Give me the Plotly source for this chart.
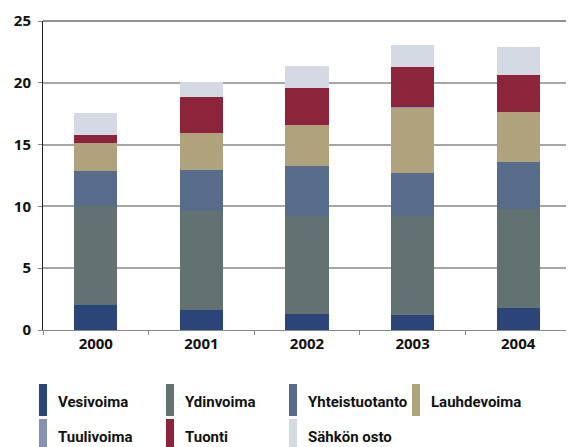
import plotly.graph_objects as go

years = ["2000", "2001", "2002", "2003", "2004"]

vesivoima = [2.02, 1.62, 1.29, 1.21, 1.78]
ydinvoima = [8.01, 8.01, 7.96, 8.04, 8.01]
yhteistuotanto = [2.83, 3.31, 4.02, 3.45, 3.80]
lauhdevoima = [2.27, 3.00, 3.32, 5.34, 4.05]
tuulivoima = [0.01, 0.01, 0.01, 0.02, 0.03]
tuonti = [0.65, 2.91, 2.99, 3.24, 2.99]
sahkon_osto = [1.78, 1.21, 1.78, 1.78, 2.27]

series = [
    ("Vesivoima", vesivoima, "#2b4579"),
    ("Ydinvoima", ydinvoima, "#617270"),
    ("Yhteistuotanto", yhteistuotanto, "#566c8a"),
    ("Lauhdevoima", lauhdevoima, "#b1a27e"),
    ("Tuulivoima", tuulivoima, "#8790b5"),
    ("Tuonti", tuonti, "#8c243b"),
    ("Sähkön osto", sahkon_osto, "#d4dae3"),
]

FONT = "Open Sans"
LEG_FONT = "Roboto"

fig = go.Figure()
for name, vals, col in series:
    fig.add_trace(go.Bar(x=years, y=vals, name=name, marker=dict(color=col, line=dict(width=0)),
                         showlegend=False))

# page body has an 8px margin, so the figure is a bit smaller than the window
OFF = 8
W, H = 574 - OFF, 447 - OFF
m_l, m_r, m_t, m_b = 35, 3, 13, 117
pw, ph = W - m_l - m_r, H - m_t - m_b

# legend drawn by hand: tall swatches, 4 columns x 2 rows (page pixels)
col_x = [39, 166, 289, 412]
row_y = [384, 419]
shapes = []
annotations = []
for i, (name, vals, col) in enumerate(series):
    cx = col_x[i % 4] - OFF
    ry = row_y[i // 4] - OFF
    shapes.append(dict(type="rect", xref="paper", yref="paper",
                       x0=(cx - m_l) / pw, x1=(cx + 8 - m_l) / pw,
                       y0=(H - m_b - (ry + 32)) / ph, y1=(H - m_b - ry) / ph,
                       fillcolor=col, line=dict(width=0)))
    annotations.append(dict(xref="paper", yref="paper", x=(cx + 17 - m_l) / pw,
                            y=(H - m_b - (ry + 18)) / ph, text="<b>%s</b>" % name,
                            showarrow=False, xanchor="left", yanchor="middle",
                            font=dict(family=LEG_FONT, size=15, color="#111")))

# dark top border
shapes.append(dict(type="line", xref="paper", yref="paper", x0=0, x1=1, y0=1, y1=1,
                   line=dict(color="#222", width=1)))

fig.update_layout(
    barmode="stack",
    bargap=0.59,
    width=W, height=H,
    margin=dict(l=m_l, r=m_r, t=m_t, b=m_b),
    plot_bgcolor="white", paper_bgcolor="white",
    font=dict(family=FONT, size=15, color="#111"),
    shapes=shapes,
    annotations=annotations,
)
fig.update_xaxes(showline=True, linecolor="#888", linewidth=1, ticks="outside",
                 tickson="boundaries", ticklen=4, tickcolor="#888",
                 tickfont=dict(family=FONT, size=15, weight="bold"), showgrid=False)
fig.update_yaxes(range=[0, 25], dtick=5, showline=True, linecolor="#222", linewidth=1,
                 mirror=True, showgrid=True, gridcolor="#a6a6a6", gridwidth=1.5,
                 ticks="outside", ticklen=4, tickcolor="#888", ticklabelstandoff=4,
                 tickfont=dict(family=FONT, size=15, weight="bold"), zeroline=False)

fig.write_html("out.html")
